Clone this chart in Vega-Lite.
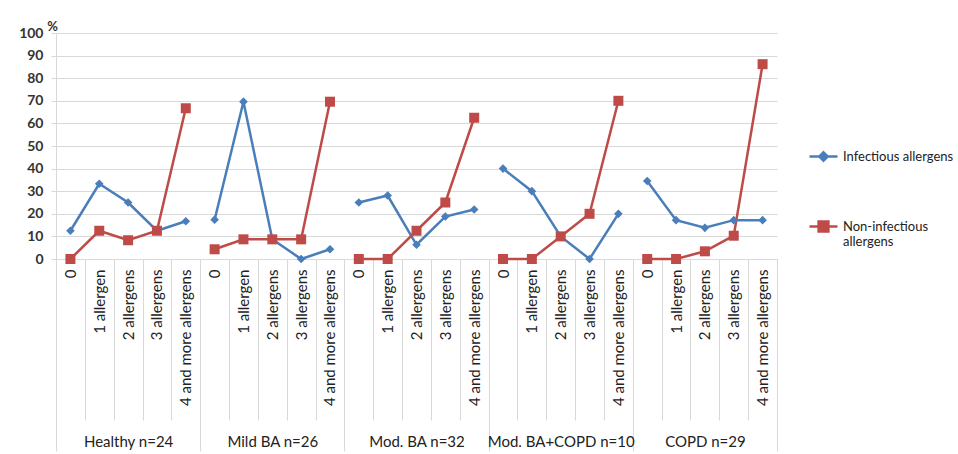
{
  "$schema": "https://vega.github.io/schema/vega-lite/v6.json",
  "autosize": "none",
  "padding": {"left": 56, "top": 33, "right": 181, "bottom": 195},
  "width": 721,
  "height": 226,
  "background": "white",
  "config": {"view": {"stroke": null}, "font": "Lato"},
  "datasets": {
    "rows": [
      {"g": "Healthy n=24", "k": "Healthy n=24|0", "s": "Infectious allergens", "v": 12.5},
      {"g": "Healthy n=24", "k": "Healthy n=24|1 allergen", "s": "Infectious allergens", "v": 33.3},
      {"g": "Healthy n=24", "k": "Healthy n=24|2 allergens", "s": "Infectious allergens", "v": 25},
      {"g": "Healthy n=24", "k": "Healthy n=24|3 allergens", "s": "Infectious allergens", "v": 12.5},
      {"g": "Healthy n=24", "k": "Healthy n=24|4 and more allergens", "s": "Infectious allergens", "v": 16.7},
      {"g": "Mild BA n=26", "k": "Mild BA n=26|0", "s": "Infectious allergens", "v": 17.4},
      {"g": "Mild BA n=26", "k": "Mild BA n=26|1 allergen", "s": "Infectious allergens", "v": 69.6},
      {"g": "Mild BA n=26", "k": "Mild BA n=26|2 allergens", "s": "Infectious allergens", "v": 8.7},
      {"g": "Mild BA n=26", "k": "Mild BA n=26|3 allergens", "s": "Infectious allergens", "v": 0},
      {"g": "Mild BA n=26", "k": "Mild BA n=26|4 and more allergens", "s": "Infectious allergens", "v": 4.3},
      {"g": "Mod. BA n=32", "k": "Mod. BA n=32|0", "s": "Infectious allergens", "v": 25},
      {"g": "Mod. BA n=32", "k": "Mod. BA n=32|1 allergen", "s": "Infectious allergens", "v": 28.1},
      {"g": "Mod. BA n=32", "k": "Mod. BA n=32|2 allergens", "s": "Infectious allergens", "v": 6.3},
      {"g": "Mod. BA n=32", "k": "Mod. BA n=32|3 allergens", "s": "Infectious allergens", "v": 18.8},
      {"g": "Mod. BA n=32", "k": "Mod. BA n=32|4 and more allergens", "s": "Infectious allergens", "v": 21.9},
      {"g": "Mod. BA+COPD n=10", "k": "Mod. BA+COPD n=10|0", "s": "Infectious allergens", "v": 40},
      {"g": "Mod. BA+COPD n=10", "k": "Mod. BA+COPD n=10|1 allergen", "s": "Infectious allergens", "v": 30},
      {"g": "Mod. BA+COPD n=10", "k": "Mod. BA+COPD n=10|2 allergens", "s": "Infectious allergens", "v": 10},
      {"g": "Mod. BA+COPD n=10", "k": "Mod. BA+COPD n=10|3 allergens", "s": "Infectious allergens", "v": 0},
      {"g": "Mod. BA+COPD n=10", "k": "Mod. BA+COPD n=10|4 and more allergens", "s": "Infectious allergens", "v": 20},
      {"g": "COPD n=29", "k": "COPD n=29|0", "s": "Infectious allergens", "v": 34.5},
      {"g": "COPD n=29", "k": "COPD n=29|1 allergen", "s": "Infectious allergens", "v": 17.2},
      {"g": "COPD n=29", "k": "COPD n=29|2 allergens", "s": "Infectious allergens", "v": 13.8},
      {"g": "COPD n=29", "k": "COPD n=29|3 allergens", "s": "Infectious allergens", "v": 17.2},
      {"g": "COPD n=29", "k": "COPD n=29|4 and more allergens", "s": "Infectious allergens", "v": 17.2},
      {"g": "Healthy n=24", "k": "Healthy n=24|0", "s": "Non-infectious allergens", "v": 0},
      {"g": "Healthy n=24", "k": "Healthy n=24|1 allergen", "s": "Non-infectious allergens", "v": 12.5},
      {"g": "Healthy n=24", "k": "Healthy n=24|2 allergens", "s": "Non-infectious allergens", "v": 8.3},
      {"g": "Healthy n=24", "k": "Healthy n=24|3 allergens", "s": "Non-infectious allergens", "v": 12.5},
      {"g": "Healthy n=24", "k": "Healthy n=24|4 and more allergens", "s": "Non-infectious allergens", "v": 66.7},
      {"g": "Mild BA n=26", "k": "Mild BA n=26|0", "s": "Non-infectious allergens", "v": 4.3},
      {"g": "Mild BA n=26", "k": "Mild BA n=26|1 allergen", "s": "Non-infectious allergens", "v": 8.7},
      {"g": "Mild BA n=26", "k": "Mild BA n=26|2 allergens", "s": "Non-infectious allergens", "v": 8.7},
      {"g": "Mild BA n=26", "k": "Mild BA n=26|3 allergens", "s": "Non-infectious allergens", "v": 8.7},
      {"g": "Mild BA n=26", "k": "Mild BA n=26|4 and more allergens", "s": "Non-infectious allergens", "v": 69.6},
      {"g": "Mod. BA n=32", "k": "Mod. BA n=32|0", "s": "Non-infectious allergens", "v": 0},
      {"g": "Mod. BA n=32", "k": "Mod. BA n=32|1 allergen", "s": "Non-infectious allergens", "v": 0},
      {"g": "Mod. BA n=32", "k": "Mod. BA n=32|2 allergens", "s": "Non-infectious allergens", "v": 12.5},
      {"g": "Mod. BA n=32", "k": "Mod. BA n=32|3 allergens", "s": "Non-infectious allergens", "v": 25},
      {"g": "Mod. BA n=32", "k": "Mod. BA n=32|4 and more allergens", "s": "Non-infectious allergens", "v": 62.5},
      {"g": "Mod. BA+COPD n=10", "k": "Mod. BA+COPD n=10|0", "s": "Non-infectious allergens", "v": 0},
      {"g": "Mod. BA+COPD n=10", "k": "Mod. BA+COPD n=10|1 allergen", "s": "Non-infectious allergens", "v": 0},
      {"g": "Mod. BA+COPD n=10", "k": "Mod. BA+COPD n=10|2 allergens", "s": "Non-infectious allergens", "v": 10},
      {"g": "Mod. BA+COPD n=10", "k": "Mod. BA+COPD n=10|3 allergens", "s": "Non-infectious allergens", "v": 20},
      {"g": "Mod. BA+COPD n=10", "k": "Mod. BA+COPD n=10|4 and more allergens", "s": "Non-infectious allergens", "v": 70},
      {"g": "COPD n=29", "k": "COPD n=29|0", "s": "Non-infectious allergens", "v": 0},
      {"g": "COPD n=29", "k": "COPD n=29|1 allergen", "s": "Non-infectious allergens", "v": 0},
      {"g": "COPD n=29", "k": "COPD n=29|2 allergens", "s": "Non-infectious allergens", "v": 3.4},
      {"g": "COPD n=29", "k": "COPD n=29|3 allergens", "s": "Non-infectious allergens", "v": 10.3},
      {"g": "COPD n=29", "k": "COPD n=29|4 and more allergens", "s": "Non-infectious allergens", "v": 86.2}
    ]
  },
  "data": {"name": "rows"},
  "layer": [
    {
      "mark": {"type": "point", "opacity": 0},
      "encoding": {
        "x": {
          "field": "g", "type": "ordinal", "sort": null,
          "scale": {"type": "band", "paddingInner": 0, "paddingOuter": 0},
          "axis": {
            "orient": "bottom", "title": null, "labelAngle": 0,
            "labelFontSize": 15, "labelColor": "#222",
            "tickBand": "extent", "tickSize": 192, "tickColor": "#d9d9d9",
            "domain": false, "labelPadding": -17
          }
        }
      }
    },
    {
      "encoding": {
        "x": {
          "field": "k", "type": "ordinal", "sort": null,
          "scale": {"type": "band", "paddingInner": 0, "paddingOuter": 0},
          "axis": {
            "orient": "bottom", "title": null,
            "labelExpr": "split(datum.value, '|')[1]",
            "labelAngle": -90, "labelFontSize": 15, "labelColor": "#222",
            "tickBand": "extent", "tickSize": 161, "tickColor": "#d9d9d9",
            "domainColor": "#d9d9d9", "labelPadding": -151, "labelLimit": 200
          }
        },
        "y": {
          "field": "v", "type": "quantitative",
          "scale": {"domain": [0, 100], "nice": false},
          "axis": {
            "values": [0, 10, 20, 30, 40, 50, 60, 70, 80, 90, 100],
            "title": "%", "titleAngle": 0, "titleX": -4, "titleY": -7,
            "titleAlign": "center", "titleBaseline": "middle", "titleFontSize": 13,
            "titleFontWeight": "bold", "titleColor": "#333",
            "labelFontSize": 14, "labelFontWeight": "bold", "labelColor": "#333",
            "labelPadding": 8, "tickSize": 5, "tickColor": "#d9d9d9",
            "domainColor": "#d9d9d9", "gridColor": "#d9d9d9", "gridWidth": 1.2
          }
        },
        "color": {
          "field": "s", "type": "nominal",
          "scale": {"domain": ["Infectious allergens", "Non-infectious allergens"], "range": ["#4A7EBB", "#BE4B48"]},
          "legend": {
            "title": null, "orient": "none", "legendX": 752, "legendY": 108,
            "labelFontSize": 13, "labelColor": "#222", "rowPadding": 45,
            "symbolSize": 784, "symbolStrokeWidth": 2.5,
            "labelExpr": "datum.label == 'Non-infectious allergens' ? ['Non-infectious', 'allergens'] : datum.label",
            "encode": {
              "symbols": {
                "update": {
                  "shape": {"signal": "datum.value == 'Infectious allergens' ? 'M-1,0H1M0,-0.3L0.3,0L0,0.3L-0.3,0Z' : 'M-1,0H1M-0.35,-0.35H0.35V0.35H-0.35Z'"},
                  "fill": {"signal": "datum.value == 'Infectious allergens' ? '#4A7EBB' : '#BE4B48'"},
                  "stroke": {"signal": "datum.value == 'Infectious allergens' ? '#4A7EBB' : '#BE4B48'"},
                  "strokeWidth": {"value": 2.5},
                  "opacity": {"value": 1}
                }
              }
            }
          }
        }
      },
      "layer": [
        {
          "mark": {"type": "line", "strokeWidth": 2.5},
          "encoding": {"detail": {"field": "g"}}
        },
        {
          "mark": {"type": "point", "filled": true, "opacity": 1},
          "encoding": {
            "shape": {"condition": {"test": "datum.s == 'Infectious allergens'", "value": "diamond"}, "value": "square"},
            "size": {"condition": {"test": "datum.s == 'Infectious allergens'", "value": 75}, "value": 100}
          }
        }
      ]
    }
  ],
  "resolve": {"scale": {"x": "independent"}, "axis": {"x": "independent"}}
}
